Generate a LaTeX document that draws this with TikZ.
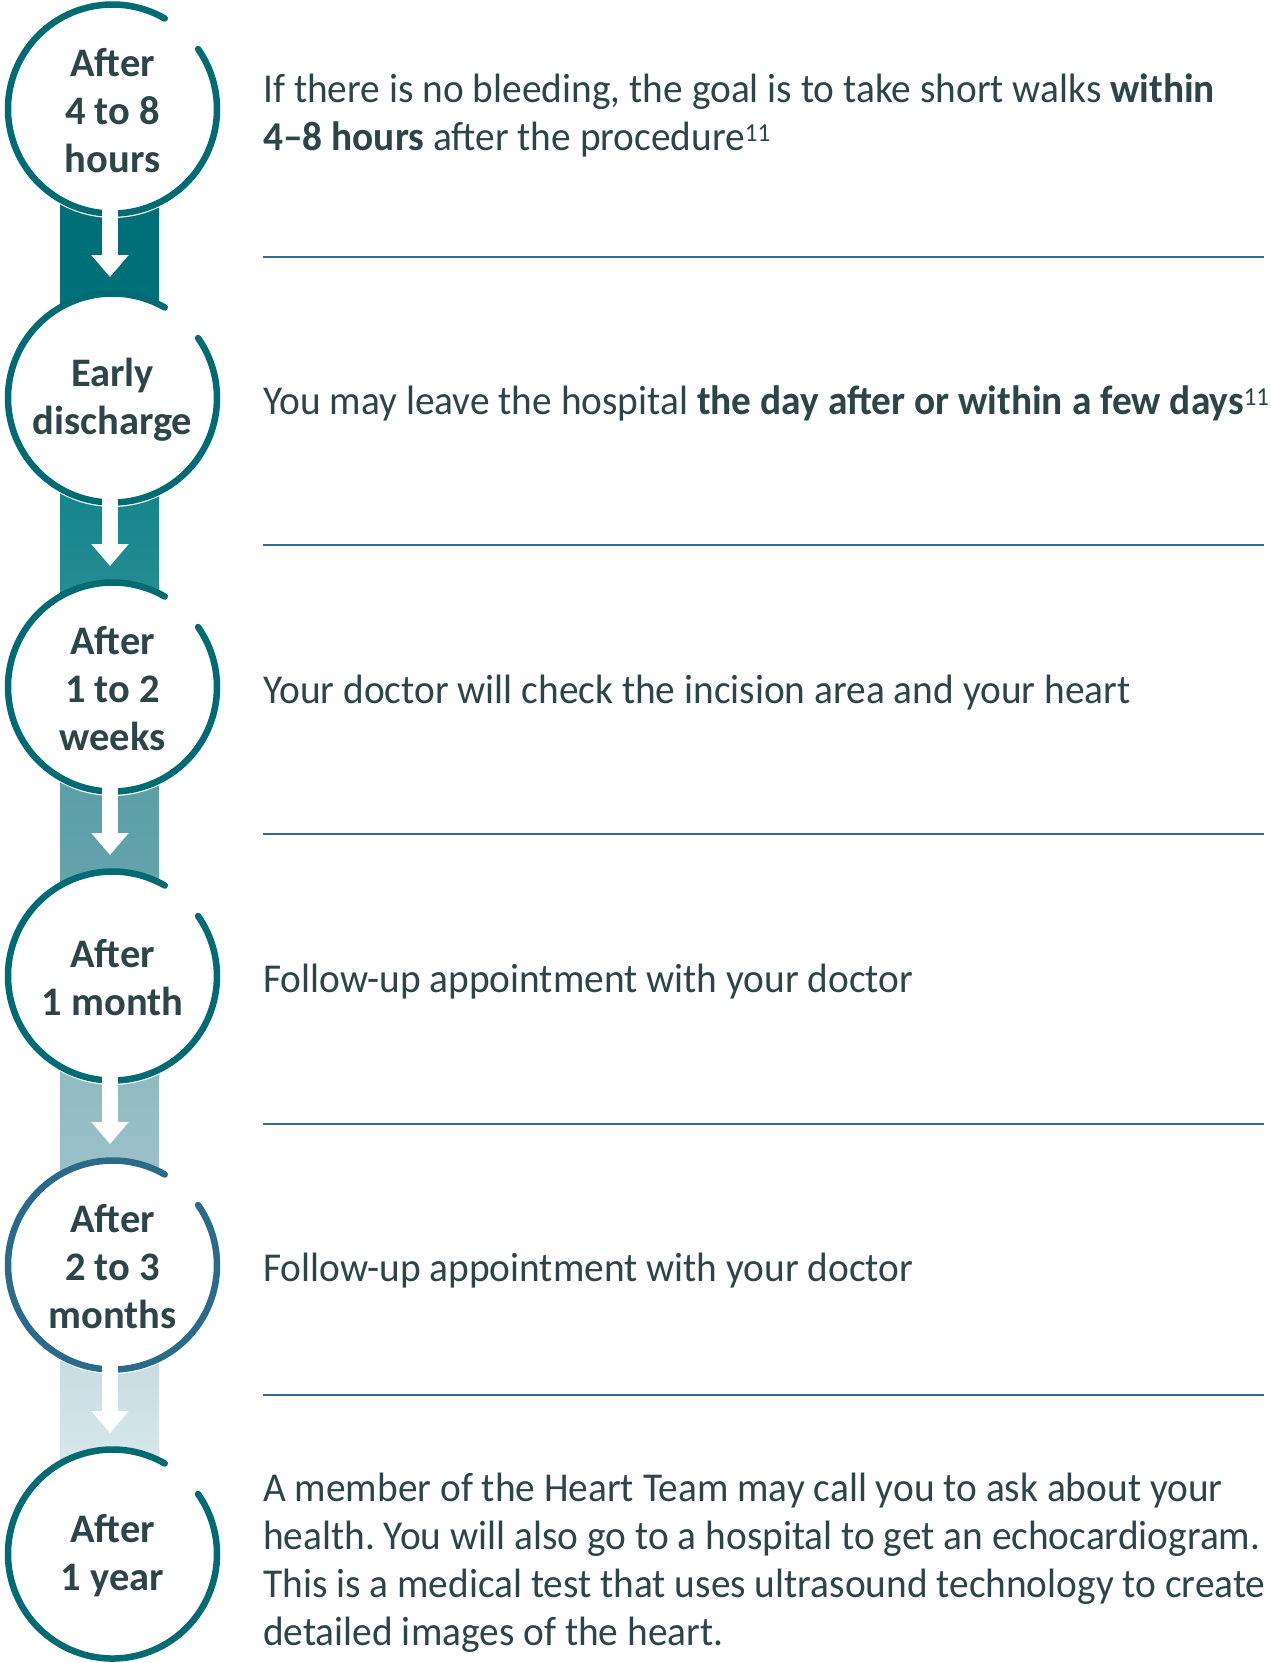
\documentclass[tikz,border=0pt]{standalone}
\usepackage{fontspec}
\setmainfont{Carlito}
\newfontfamily\bodyfont{Carlito}[FakeStretch=0.96]
\usetikzlibrary{arrows.meta}
\definecolor{ringteal}{HTML}{006B72}
\definecolor{ringblue}{HTML}{2A6A8B}
\definecolor{txt}{HTML}{2D4549}
\definecolor{sep}{HTML}{2E6C94}
\definecolor{bA1}{HTML}{006F77}\definecolor{bA2}{HTML}{007179}
\definecolor{bB1}{HTML}{13858B}\definecolor{bB2}{HTML}{268C93}
\definecolor{bC1}{HTML}{5A9EA7}\definecolor{bC2}{HTML}{64A4AC}
\definecolor{bD1}{HTML}{8FBAC2}\definecolor{bD2}{HTML}{9BC1C8}
\definecolor{bE1}{HTML}{C4DCE1}\definecolor{bE2}{HTML}{D8E8EB}
\tikzset{
  stage/.style={circle, fill=white, minimum size=214pt, inner sep=0pt, align=center,
    text=txt, font=\fontsize{40.5}{48}\selectfont\bfseries},
  ring/.style={line width=6.5pt, line cap=round},
  body/.style={anchor=west, inner sep=0pt, align=left, text=txt,
    font=\bodyfont\fontsize{41}{48}\selectfont},
  sepline/.style={draw=sep, line width=2pt},
  flow/.style={draw=white, line width=16pt, -{Triangle[width=36pt, length=22pt]}},
}
\newcommand{\refmark}{\textsuperscript{\fontsize{26}{26}\selectfont 11}}
\begin{document}
\frenchspacing
\begin{tikzpicture}[x=1pt,y=1pt]
\useasboundingbox (0,0) rectangle (1271,-1663);
\fill[white] (0,0) rectangle (1271,-1663);
% bars
\shade[top color=bA1, bottom color=bA2] (60,-197) rectangle (159,-310);
\shade[top color=bB1, bottom color=bB2] (60,-486) rectangle (159,-599);
\shade[top color=bC1, bottom color=bC2] (60,-775) rectangle (159,-888);
\shade[top color=bD1, bottom color=bD2] (60,-1064) rectangle (159,-1177);
\shade[top color=bE1, bottom color=bE2] (60,-1353) rectangle (159,-1466);
% circles
\node[stage] (c1) at (112.5,-111) {After\\4 to 8\\hours};
\node[stage] (c2) at (112.5,-400) {Early\\discharge};
\node[stage] (c3) at (112.5,-689) {After\\1 to 2\\weeks};
\node[stage] (c4) at (112.5,-978) {After\\1 month};
\node[stage] (c5) at (112.5,-1267) {After\\2 to 3\\months};
\node[stage] (c6) at (112.5,-1556) {After\\1 year};
\foreach \c/\col in {c1/ringteal,c2/ringteal,c3/ringteal,c4/ringteal,c5/ringblue,c6/ringteal}{
  \draw[ring, draw=\col] (\c.center) ++(0,2) ++(60:104.5) arc[start angle=60, end angle=395, radius=104.5];
}
% arrows
\foreach \i/\y in {1/-109,2/-398,3/-687,4/-976,5/-1265}{
  \coordinate (s\i) at (110,\y-95);
  \coordinate (e\i) at (110,\y-168);
  \draw[flow] (s\i) -- (e\i);
}
% separators
\foreach \y in {-257,-545,-834,-1124,-1395}{
  \draw[sepline] (263,\y) -- (1264,\y);
}
% texts
\node[body] (t1) at (263,-115) {If there is no bleeding, the goal is to take short walks \textbf{within}\\\textbf{4–8 hours} after the procedure\refmark};
\node[body] (t2) at (263,-403) {You may leave the hospital \textbf{the day after or within a few days}\refmark};
\node[body] (t3) at (263,-693) {Your doctor will check the incision area and your heart};
\node[body] (t4) at (263,-982) {Follow-up appointment with your doctor};
\node[body] (t5) at (263,-1271) {Follow-up appointment with your doctor};
\node[body] (t6) at (263,-1563) {A member of the Heart Team may call you to ask about your\\health. You will also go to a hospital to get an echocardiogram.\\This is a medical test that uses ultrasound technology to create\\detailed images of the heart.};
\end{tikzpicture}
\end{document}
